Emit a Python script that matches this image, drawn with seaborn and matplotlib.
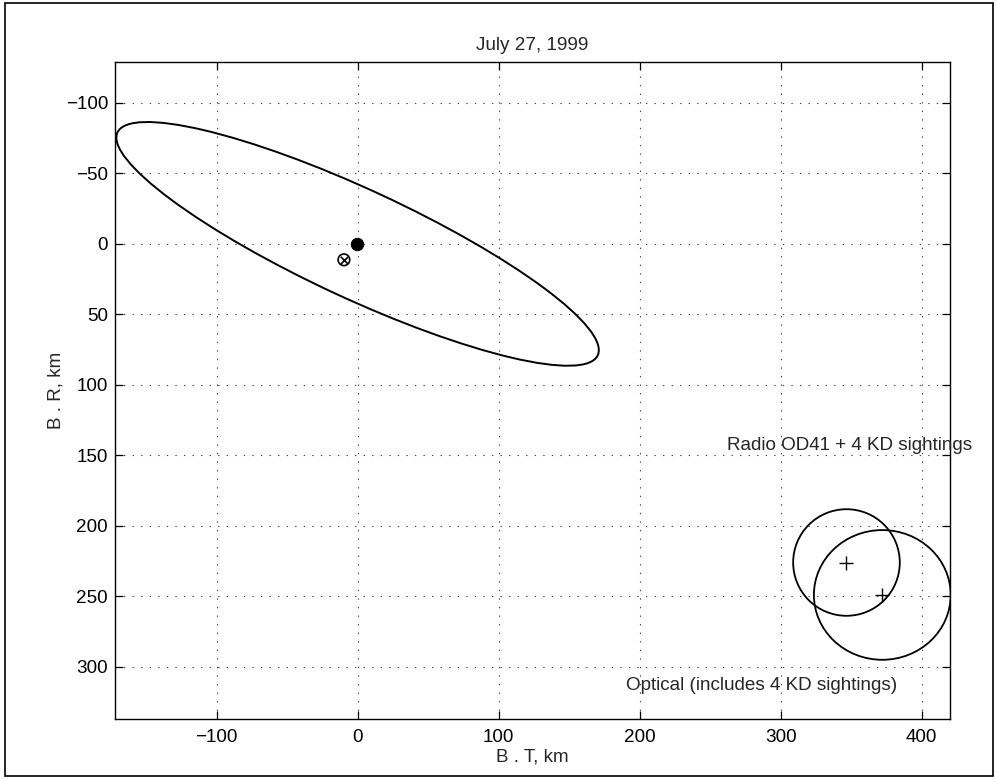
import numpy as np
import pandas as pd
import matplotlib
matplotlib.use("Agg")
import matplotlib.pyplot as plt
import seaborn as sns
from matplotlib.patches import Ellipse, Rectangle

# ---- data ----
title = "July 27, 1999"
x_label = "B . T, km"
y_label = "B . R, km"
x_ticks = [-100, 0, 100, 200, 300, 400]
y_ticks = [-100, -50, 0, 50, 100, 150, 200, 250, 300]

# error ellipse (radio only), centre and semi-axes in km, tilt in degrees
radio_center = (0.0, 0.0)
radio_semi_axes = (187.7, 38.6)
radio_angle = 24.9

# solution points
nominal_pt = {"BT": [-0.5], "BR": [0.0]}
target_pt = {"BT": [-9.7], "BR": [11.3]}

# 1-sigma regions of the two combined solutions
combo_labels = ["Radio OD41 + 4 KD sightings", "Optical (includes 4 KD sightings)"]
combo_BT = [346.6, 372.0]
combo_BR = [226.0, 249.0]
combo_semi_x = [37.8, 48.5]
combo_semi_y = [37.8, 46.0]
label_BT = [262.0, 190.0]
label_BR = [143.0, 313.0]

# ---- style ----
FS = 13.6
sns.set_theme(style="white")
plt.rcParams["font.family"] = ["Liberation Sans", "DejaVu Sans"]
plt.rcParams["font.size"] = FS

fig = plt.figure(figsize=(9.96, 7.79), dpi=100)
ax = fig.add_axes([115 / 996, 1 - 719 / 779, (950 - 115) / 996, (719 - 62) / 779])

# grid
grid_kw = dict(color="#444444", lw=0.8, linestyle=(0, (1.2, 6.5)), zorder=0)
for xv in x_ticks:
    ax.axvline(xv, **grid_kw)
for yv in y_ticks:
    ax.axhline(yv, **grid_kw)

# radio ellipse
ax.add_patch(Ellipse(radio_center, 2 * radio_semi_axes[0], 2 * radio_semi_axes[1],
                     angle=radio_angle, fill=False, ec="black", lw=1.4, zorder=3))

# combined solution regions
for bt, br, sx, sy in zip(combo_BT, combo_BR, combo_semi_x, combo_semi_y):
    ax.add_patch(Ellipse((bt, br), 2 * sx, 2 * sy, fill=False, ec="black", lw=1.3, zorder=3))

combo_df = pd.DataFrame({"BT": combo_BT, "BR": combo_BR})
sns.scatterplot(data=combo_df, x="BT", y="BR", marker="+", s=90, color="black",
                linewidth=1.0, ax=ax, zorder=4)

sns.scatterplot(data=pd.DataFrame(nominal_pt), x="BT", y="BR", marker="o", s=80,
                color="black", edgecolor="black", ax=ax, zorder=5)
tdf = pd.DataFrame(target_pt)
sns.scatterplot(data=tdf, x="BT", y="BR", marker="o", s=70, facecolor="none",
                edgecolor="black", linewidth=1.2, ax=ax, zorder=5)
sns.scatterplot(data=tdf, x="BT", y="BR", marker="x", s=28, color="black",
                linewidth=1.2, ax=ax, zorder=5)

for lab, lx, ly in zip(combo_labels, label_BT, label_BR):
    ax.text(lx, ly, lab, ha="left", va="center", fontsize=FS, clip_on=False, zorder=6)

ax.set_xlim(-172, 420)
ax.set_ylim(337, -129)
ax.set_xticks(x_ticks)
ax.set_yticks(y_ticks)
ax.set_xticklabels([f"{v}".replace("-", "\u2212") for v in x_ticks])
ax.set_yticklabels([f"{v}".replace("-", "\u2212") for v in y_ticks])
ax.tick_params(direction="in", length=6, width=0.9, top=True, right=True,
               bottom=True, left=True, labelsize=FS, pad=5, colors="black")
ax.tick_params(axis="x", pad=7)
for s in ax.spines.values():
    s.set_color("black")
    s.set_linewidth(1.0)
ax.set_xlabel(x_label, fontsize=FS, labelpad=2)
ax.set_ylabel(y_label, fontsize=FS, labelpad=1)
ax.set_title(title, fontsize=FS, pad=9)
ax.grid(False)

# figure frame
fig.patches.append(Rectangle((5 / 996, 3 / 779), 988 / 996, 773 / 779,
                             transform=fig.transFigure, fill=False, ec="black", lw=1.2))

fig.savefig("out.png", dpi=100)
